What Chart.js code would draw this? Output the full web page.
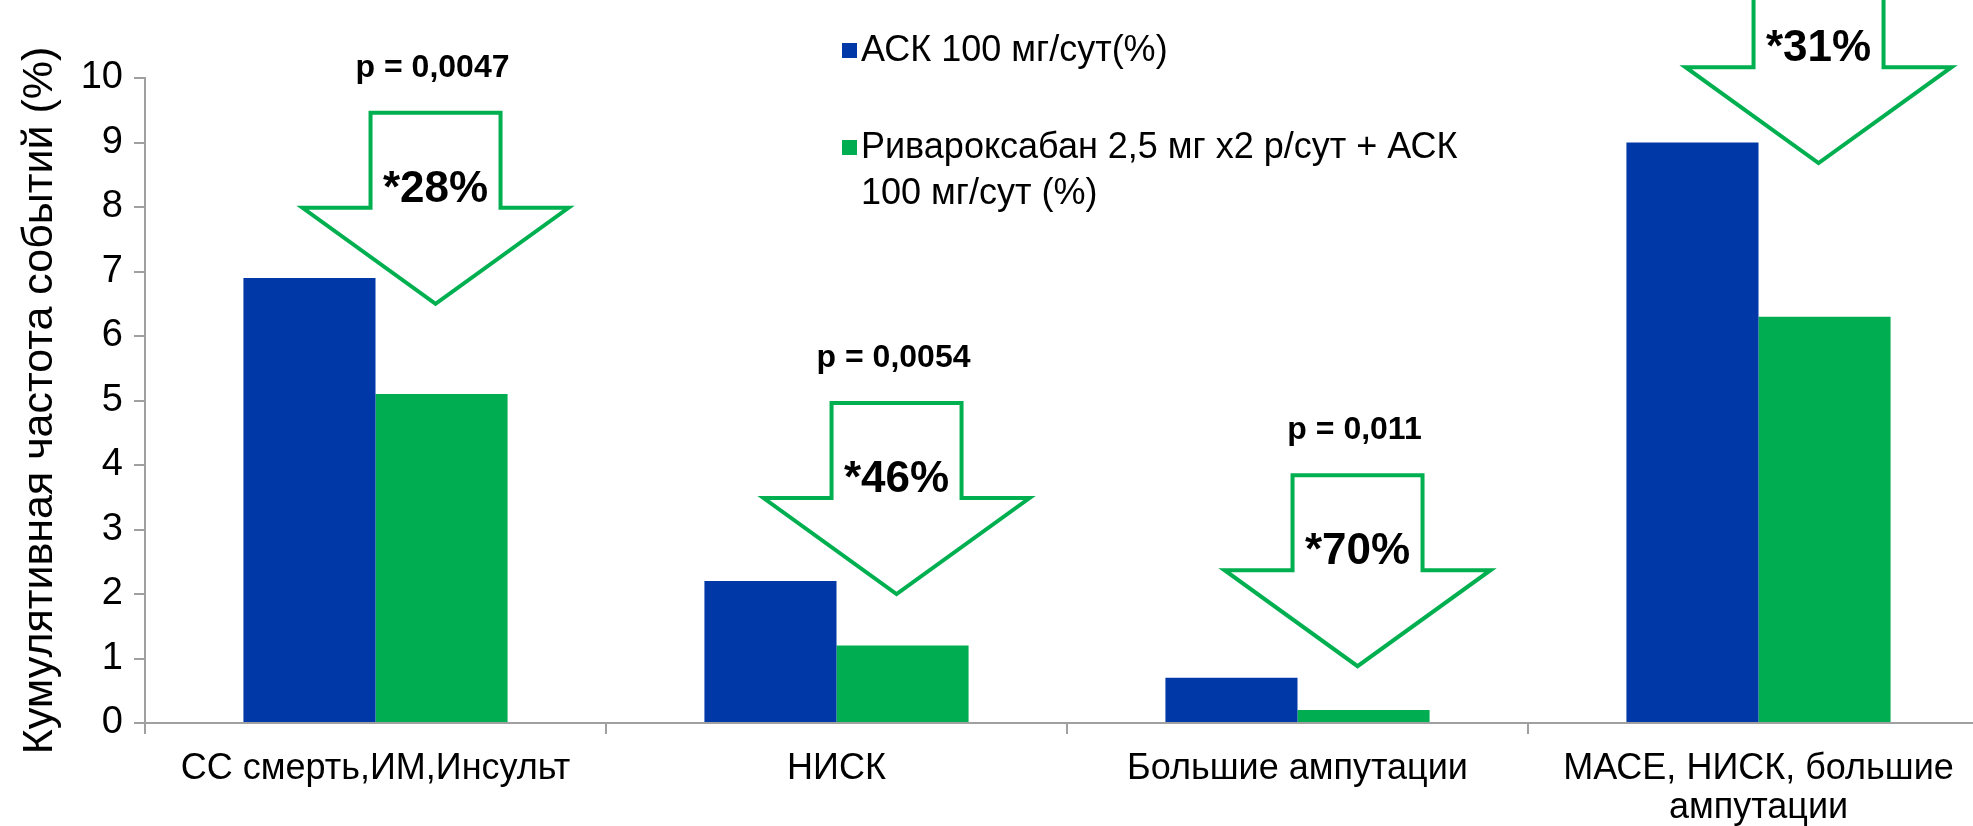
<!DOCTYPE html>
<html>
<head>
<meta charset="utf-8">
<script src="https://cdn.jsdelivr.net/npm/chart.js@4.4.1/dist/chart.umd.min.js"></script>
<style>
  html, body { margin: 0; padding: 0; background: #fff; overflow: hidden; }
</style>
</head>
<body>
<canvas id="events-chart" width="2000" height="826"></canvas>
<script>
const categories = [
  "СС смерть,ИМ,Инсульт",
  "НИСК",
  "Большие ампутации",
  ["МАСЕ, НИСК, большие", "ампутации"],
];
const aspirinValues = [6.9, 2.2, 0.7, 9.0];
const comboValues = [5.1, 1.2, 0.2, 6.3];
const aspirinLabel = ["АСК 100 мг/сут(%)"];
const comboLabel = ["Ривароксабан 2,5 мг x2 р/сут + АСК", "100 мг/сут (%)"];
const pValues = ["p = 0,0047", "p = 0,0054", "p = 0,011", ""];
const reductions = ["*28%", "*46%", "*70%", "*31%"];
// where each arrow points, in axis units
const arrowTips = [6.5, 2.0, 0.88, 8.68];
const yTitle = "Кумулятивная частота событий (%)";

const FONT = '"Liberation Sans", Arial, sans-serif';
const BLUE = "#0038a8";
const GREEN = "#00ad50";
const ARROW_GREEN = "#00b050";
const AXIS_GRAY = "#a0a0a0";

Chart.defaults.font.family = FONT;
Chart.defaults.color = "#000";

const arrowPlugin = {
  id: "arrows",
  afterDatasetsDraw(chart) {
    const ctx = chart.ctx;
    const y = chart.scales.y;
    const greenBars = chart.getDatasetMeta(1).data;
    const shaftHalf = 65;
    const headHalf = 133;
    const headLen = 96;
    const shaftLen = 95;

    greenBars.forEach((bar, i) => {
      const cx = bar.x - 6;
      const tip = y.getPixelForValue(arrowTips[i]);
      const base = tip - headLen;
      const top = base - shaftLen;

      ctx.save();
      ctx.beginPath();
      ctx.moveTo(cx - shaftHalf, top);
      ctx.lineTo(cx + shaftHalf, top);
      ctx.lineTo(cx + shaftHalf, base);
      ctx.lineTo(cx + headHalf, base);
      ctx.lineTo(cx, tip);
      ctx.lineTo(cx - headHalf, base);
      ctx.lineTo(cx - shaftHalf, base);
      ctx.closePath();
      ctx.fillStyle = "#fff";
      ctx.fill();
      ctx.lineWidth = 4;
      ctx.lineJoin = "miter";
      ctx.strokeStyle = ARROW_GREEN;
      ctx.stroke();

      ctx.fillStyle = "#000";
      ctx.textAlign = "center";
      ctx.textBaseline = "alphabetic";
      ctx.font = `bold 44px ${FONT}`;
      ctx.fillText(reductions[i], cx, base - 6);

      if (pValues[i]) {
        ctx.font = `bold 32px ${FONT}`;
        ctx.fillText(pValues[i], cx - 3, top - 36);
      }
      ctx.restore();
    });
  },
};

const legendPlugin = {
  id: "sideLegend",
  afterDraw(chart) {
    const ctx = chart.ctx;
    const items = [
      { color: chart.data.datasets[0].backgroundColor, lines: aspirinLabel, y: 51 },
      { color: chart.data.datasets[1].backgroundColor, lines: comboLabel, y: 148 },
    ];
    ctx.save();
    ctx.font = `36px ${FONT}`;
    ctx.textAlign = "left";
    ctx.textBaseline = "middle";
    items.forEach((item) => {
      ctx.fillStyle = item.color;
      ctx.fillRect(842, item.y - 8, 15, 15);
      ctx.fillStyle = "#000";
      item.lines.forEach((line, k) => {
        ctx.fillText(line, 861, item.y + k * 46);
      });
    });
    ctx.restore();
  },
};

new Chart(document.getElementById("events-chart"), {
  type: "bar",
  data: {
    labels: categories,
    datasets: [
      {
        label: aspirinLabel.join(" "),
        data: aspirinValues,
        backgroundColor: BLUE,
        categoryPercentage: 0.573,
        barPercentage: 1,
        borderWidth: 0,
      },
      {
        label: comboLabel.join(" "),
        data: comboValues,
        backgroundColor: GREEN,
        categoryPercentage: 0.573,
        barPercentage: 1,
        borderWidth: 0,
      },
    ],
  },
  options: {
    responsive: false,
    animation: false,
    layout: {
      padding: { left: 0, top: 78, right: 11, bottom: 0 },
    },
    plugins: {
      legend: { display: false },
      tooltip: { enabled: false },
    },
    scales: {
      x: {
        offset: true,
        grid: {
          offset: true,
          drawOnChartArea: false,
          tickLength: 11,
          color: AXIS_GRAY,
          lineWidth: 2,
        },
        border: { display: true, color: AXIS_GRAY, width: 2 },
        ticks: {
          autoSkip: false,
          maxRotation: 0,
          padding: 15,
          font: { size: 36, lineHeight: 1.1 },
        },
        afterFit: (scale) => {
          scale.height = 103;
        },
      },
      y: {
        min: 0,
        max: 10,
        grid: {
          drawOnChartArea: false,
          tickLength: 11,
          color: AXIS_GRAY,
          lineWidth: 2,
        },
        border: { display: true, color: AXIS_GRAY, width: 2 },
        ticks: {
          stepSize: 1,
          padding: 11,
          font: { size: 38 },
        },
        title: {
          display: true,
          text: yTitle,
          font: { size: 43 },
          padding: { top: 14, bottom: 0 },
        },
        afterFit: (scale) => {
          scale.width = 145;
        },
      },
    },
  },
  plugins: [arrowPlugin, legendPlugin],
});
</script>
</body>
</html>
